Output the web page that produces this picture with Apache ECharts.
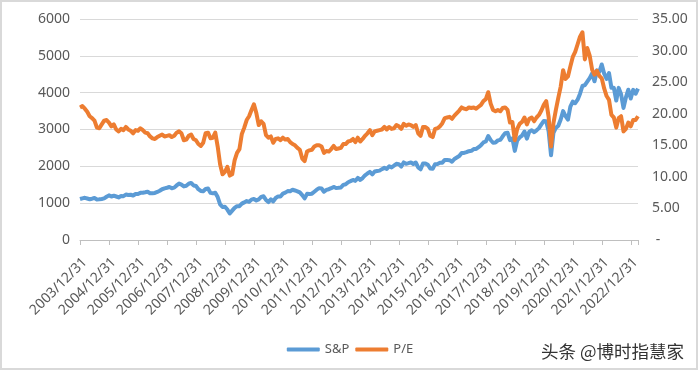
<!DOCTYPE html>
<html>
<head>
<meta charset="utf-8">
<script src="https://cdn.jsdelivr.net/npm/echarts@6/dist/echarts.min.js"></script>
<style>
html,body{margin:0;padding:0;background:#fff;}
#chart{width:700px;height:373px;}
</style>
</head>
<body>
<div id="chart"></div>
<script>
// Years covered (month-end categories from 2003/12/31 to 2023/03/31)
var startLabel = '2003/12/31';
var years = [2004,2005,2006,2007,2008,2009,2010,2011,2012,2013,2014,2015,2016,2017,2018,2019,2020,2021,2022];
var lastYear = 2023, lastYearMonths = 3;

// S&P index level (month-end)
var sp2003 = [1112];
var sp2004 = [1131,1145,1126,1107,1121,1141,1102,1104,1115,1130,1174,1212];
var sp2005 = [1181,1204,1181,1157,1192,1191,1234,1220,1229,1207,1249,1248];
var sp2006 = [1280,1281,1295,1311,1270,1270,1277,1304,1336,1378,1401,1418];
var sp2007 = [1438,1407,1421,1482,1531,1503,1455,1474,1527,1549,1481,1468];
var sp2008 = [1379,1331,1323,1386,1400,1280,1267,1283,1166,969,896,903];
var sp2009 = [826,720,798,873,919,919,987,1021,1057,1036,1096,1115];
var sp2010 = [1074,1104,1169,1187,1089,1031,1102,1049,1141,1183,1181,1258];
var sp2011 = [1286,1327,1326,1364,1345,1321,1292,1219,1131,1253,1247,1258];
var sp2012 = [1312,1366,1408,1398,1310,1362,1379,1407,1441,1412,1416,1426];
var sp2013 = [1498,1515,1569,1598,1631,1606,1686,1633,1682,1757,1806,1848];
var sp2014 = [1783,1859,1872,1884,1924,1960,1931,2003,1972,2018,2068,2059];
var sp2015 = [1995,2105,2068,2086,2107,2063,2104,1972,1920,2079,2080,2044];
var sp2016 = [1940,1932,2060,2065,2097,2099,2174,2171,2168,2126,2199,2239];
var sp2017 = [2279,2364,2363,2384,2412,2423,2470,2472,2519,2575,2648,2674];
var sp2018 = [2824,2714,2641,2648,2705,2718,2816,2902,2914,2712,2760,2420];
var sp2019 = [2704,2784,2834,2946,2752,2942,2980,2926,2977,3038,3141,3231];
var sp2020 = [3226,2954,2300,2912,3044,3100,3271,3500,3363,3270,3622,3756];
var sp2021 = [3714,3811,3973,4181,4204,4298,4395,4523,4308,4605,4567,4766];
var sp2022 = [4516,4374,4530,4132,4132,3785,4130,3955,3586,3872,4080,3840];
var sp2023 = [4077,3970,4109];

// P/E (month-end)
var pe2003 = [21.0];
var pe2004 = [21.2,20.8,20.3,19.6,19.3,18.9,17.8,17.7,18.3,18.9,19.0,18.6];
var pe2005 = [18.0,18.3,17.5,17.2,17.6,17.4,17.9,17.5,17.3,16.9,17.4,17.3];
var pe2006 = [17.7,17.4,17.0,16.9,16.4,16.1,16.0,16.3,16.5,16.7,16.4,16.5];
var pe2007 = [16.6,16.3,16.5,17.0,17.2,16.9,15.8,15.9,16.5,16.7,16.0,15.8];
var pe2008 = [15.2,14.9,15.4,16.9,17.0,16.1,16.2,17.0,14.8,12.0,10.4,10.8];
var pe2009 = [11.6,10.2,10.4,12.6,13.8,14.4,16.8,17.8,19.0,19.6,20.6,21.5];
var pe2010 = [20.1,18.2,18.8,18.4,16.6,16.2,16.4,15.4,16.0,16.1,15.8,16.2];
var pe2011 = [15.9,16.0,15.5,15.2,15.0,14.6,14.3,12.9,12.5,14.0,14.2,14.3];
var pe2012 = [14.8,15.0,15.0,14.8,13.8,14.1,14.0,14.4,14.9,14.4,14.5,14.6];
var pe2013 = [15.2,15.2,15.6,15.7,16.0,15.5,16.2,15.6,16.0,16.5,16.9,17.4];
var pe2014 = [16.6,17.2,17.3,17.4,17.5,17.9,17.5,17.9,17.6,17.7,18.2,18.0];
var pe2015 = [17.6,18.4,18.1,18.3,18.2,17.9,18.2,16.9,16.5,17.9,17.9,17.6];
var pe2016 = [16.5,16.3,17.6,17.7,18.0,18.5,19.3,19.4,19.5,19.2,19.7,20.1];
var pe2017 = [20.5,21.0,20.8,20.7,21.0,20.9,21.0,20.8,21.1,21.4,22.0,22.3];
var pe2018 = [23.4,21.6,20.6,20.4,20.6,20.4,20.9,21.0,20.6,18.6,18.7,15.8];
var pe2019 = [17.6,18.4,18.7,19.4,18.3,19.2,19.4,18.8,19.4,19.8,20.5,21.4];
var pe2020 = [22.0,19.5,14.8,18.5,20.6,22.5,24.3,26.9,25.5,25.9,27.5,29.0];
var pe2021 = [29.8,31.0,32.2,32.9,28.6,30.4,29.2,27.0,26.2,26.8,26.0,25.6];
var pe2022 = [24.0,22.8,22.2,19.8,19.4,17.8,19.3,19.6,17.2,17.6,18.6,18.0];
var pe2023 = [19.0,19.0,19.6];

// Axis tick values
var leftTicks = [0,1000,2000,3000,4000,5000,6000];
var rightTicks = [0,5,10,15,20,25,30,35];

var seriesNames = ['S&P','P/E'];
var watermark = '头条 @博时指慧家';

// ---- build categories & series ----
var monthEnds = ['01/31','02/28','03/31','04/30','05/31','06/30','07/31','08/31','09/30','10/31','11/30','12/31'];
var categories = [startLabel];
years.forEach(function(y){ monthEnds.forEach(function(m){ categories.push(y + '/' + m); }); });
for (var i = 0; i < lastYearMonths; i++) categories.push(lastYear + '/' + monthEnds[i]);

var spData = [].concat(sp2003,sp2004,sp2005,sp2006,sp2007,sp2008,sp2009,sp2010,sp2011,sp2012,sp2013,sp2014,sp2015,sp2016,sp2017,sp2018,sp2019,sp2020,sp2021,sp2022,sp2023);
var peData = [].concat(pe2003,pe2004,pe2005,pe2006,pe2007,pe2008,pe2009,pe2010,pe2011,pe2012,pe2013,pe2014,pe2015,pe2016,pe2017,pe2018,pe2019,pe2020,pe2021,pe2022,pe2023);

var isYearEnd = function(idx, val){ return /\/12\/31$/.test(val); };
var isTick = function(idx, val){ return /\/12\/31$/.test(val) || idx === categories.length - 1; };

var FONT = '"Noto Sans", "Liberation Sans", sans-serif';
var chart = echarts.init(document.getElementById('chart'), null, {renderer:'canvas'});
chart.setOption({
  animation: false,
  backgroundColor: '#ffffff',
  textStyle: { fontFamily: FONT },
  grid: { left: 80, right: 62, top: 19, bottom: 133, containLabel: false },
  legend: {
    data: seriesNames,
    left: 'center',
    top: 338,
    icon: 'roundRect',
    itemWidth: 33,
    itemHeight: 4,
    itemGap: 6,
    textStyle: { color: '#595959', fontSize: 13, fontFamily: FONT }
  },
  xAxis: {
    type: 'category',
    data: categories,
    boundaryGap: false,
    axisLine: { lineStyle: { color: '#BFBFBF', width: 1 } },
    axisTick: { interval: isTick, length: 5, lineStyle: { color: '#BFBFBF' } },
    axisLabel: { interval: isYearEnd, rotate: 45, align: 'right', verticalAlign: 'top',
      color: '#595959', fontSize: 14, margin: 15, fontFamily: FONT },
    splitLine: { show: false }
  },
  yAxis: [
    {
      type: 'value', min: leftTicks[0], max: leftTicks[leftTicks.length-1], interval: leftTicks[1]-leftTicks[0],
      axisLine: { show: false }, axisTick: { show: false },
      axisLabel: { color: '#595959', fontSize: 14, margin: 10, fontFamily: FONT,
        formatter: function(v){ return String(v); } },
      splitLine: { lineStyle: { color: '#D9D9D9', width: 1 } }
    },
    {
      type: 'value', position: 'right', min: rightTicks[0], max: rightTicks[rightTicks.length-1], interval: rightTicks[1]-rightTicks[0],
      axisLine: { show: false }, axisTick: { show: false },
      axisLabel: { color: '#595959', fontSize: 14, margin: 14, fontFamily: FONT,
        formatter: function(v){ return v === 0 ? ' -' : v.toFixed(2); } },
      splitLine: { show: false }
    }
  ],
  series: [
    { name: seriesNames[0], type: 'line', data: spData, yAxisIndex: 0, showSymbol: false, symbol: 'none',
      lineStyle: { color: '#5B9BD5', width: 4, join: 'round' }, itemStyle: { color: '#5B9BD5' }, z: 2 },
    { name: seriesNames[1], type: 'line', data: peData, yAxisIndex: 1, showSymbol: false, symbol: 'none',
      lineStyle: { color: '#ED7D31', width: 4, join: 'round' }, itemStyle: { color: '#ED7D31' }, z: 3 }
  ],
  graphic: [
    { type: 'rect', silent: true, shape: { x: 1, y: 1, width: 696, height: 368 },
      style: { fill: 'none', stroke: '#D9D9D9', lineWidth: 2 } },
    { type: 'text', left: 541, top: 343, silent: true,
      style: { text: watermark, fill: '#333333', fontSize: 17.5, fontFamily: '"Noto Sans CJK SC", sans-serif' } }
  ]
});
</script>
</body>
</html>
